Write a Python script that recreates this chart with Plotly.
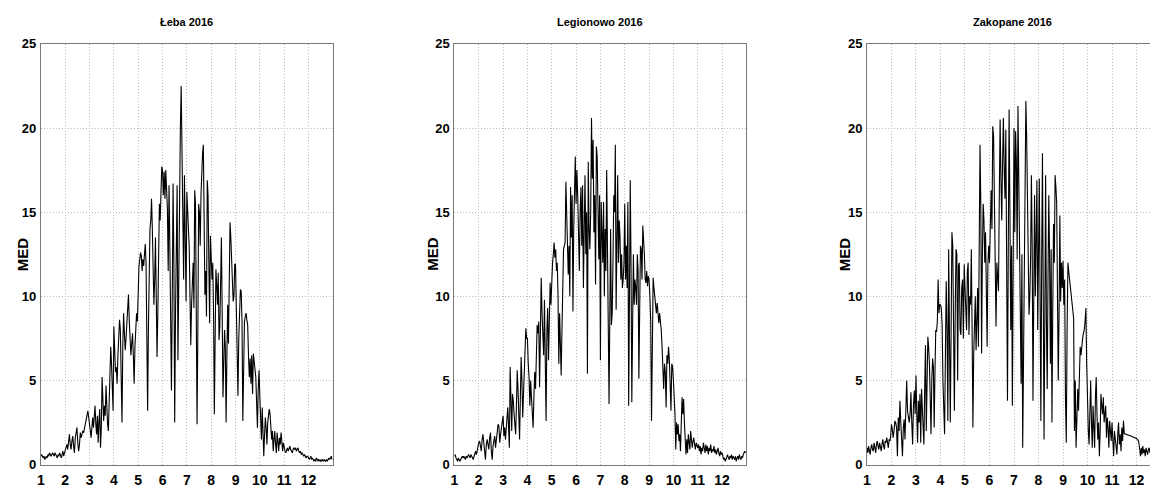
import plotly.graph_objects as go

# Daily MED values, grouped by month (Jan..Dec)
leba = [
    [0.5,0.6,0.5,0.4,0.5,0.3,0.4,0.5,0.4,0.6,0.5,0.7,0.6,0.5,0.6,0.7,0.6,0.5,0.7,0.6,0.5,0.4,0.6,0.5,0.7,0.6,0.4,0.6,0.8,0.5,0.7],
    [0.8,1.0,1.2,0.9,1.5,1.8,1.2,0.9,1.4,1.7,1.1,0.7,1.6,2.0,2.2,1.3,0.8,1.2,1.9,1.6,1.8,2.0,1.9,2.2,2.5,2.7,2.9,3.2,2.8],
    [2.5,2.0,1.6,2.4,2.8,2.2,3.0,3.5,2.4,1.8,2.9,1.3,2.6,3.3,1.0,2.2,5.2,4.3,2.6,3.5,2.9,4.7,3.0,2.4,2.0,3.5,5.5,7.0,6.0,4.0,3.2],
    [8.2,6.0,5.5,5.8,4.8,6.5,7.5,8.6,8.0,6.0,2.5,7.0,9.0,7.8,6.8,7.5,8.3,9.5,10.1,8.5,7.0,6.5,7.2,7.8,6.5,4.8,7.0,8.0,9.0,8.5],
    [10.5,11.8,12.2,12.6,12.4,11.5,12.2,11.8,12.5,13.1,12.0,7.0,3.2,8.0,13.0,14.0,14.5,15.8,14.0,12.0,9.5,11.0,13.5,10.0,6.4,9.0,14.0,15.5,14.5,16.5,17.7],
    [17.5,16.0,17.4,15.8,17.5,16.0,15.2,11.5,16.6,13.0,8.0,4.4,10.0,16.7,12.0,2.5,9.0,15.5,16.6,6.2,12.0,17.0,20.0,22.5,17.8,13.0,11.0,17.2,14.0,9.7],
    [16.2,15.0,14.3,12.9,10.0,7.1,9.5,11.0,12.0,9.3,16.3,15.5,10.0,2.4,8.0,15.5,15.0,13.0,16.0,18.0,18.5,19.0,15.0,10.1,11.5,8.8,16.9,16.0,12.0,8.4,13.6],
    [12.5,11.0,12.0,9.0,3.0,8.0,11.6,10.7,9.5,11.4,7.4,8.2,10.5,13.5,9.0,4.0,6.0,8.0,7.0,2.5,6.5,9.5,7.2,10.0,14.4,13.5,12.0,10.5,9.7,10.0,11.9],
    [11.9,9.5,8.0,4.1,7.5,9.0,10.4,10.3,8.5,2.6,7.8,8.5,8.8,9.0,8.6,8.3,6.5,5.2,6.3,4.8,6.5,4.2,6.6,6.2,5.8,5.2,3.7,2.2,4.5,5.6],
    [4.0,3.0,1.5,3.4,1.0,0.5,1.8,2.8,2.2,1.2,2.5,3.2,3.3,3.0,2.4,1.5,2.0,0.8,1.5,2.0,1.2,0.7,1.9,1.4,0.8,1.6,1.2,1.9,1.0,0.8,1.3],
    [0.9,0.8,0.7,0.9,1.0,0.8,0.9,1.1,0.9,0.8,0.7,0.9,1.0,0.9,1.0,0.8,0.9,1.0,0.8,0.7,0.8,0.6,0.7,0.6,0.5,0.6,0.5,0.4,0.5,0.5],
    [0.4,0.3,0.4,0.5,0.3,0.4,0.3,0.2,0.3,0.2,0.4,0.3,0.2,0.3,0.2,0.2,0.3,0.2,0.3,0.2,0.3,0.2,0.2,0.3,0.2,0.3,0.4,0.3,0.4,0.5,0.3],
]

legionowo = [
    [0.5,0.6,0.4,0.3,0.2,0.4,0.3,0.2,0.3,0.4,0.5,0.4,0.5,0.4,0.3,0.5,0.4,0.5,0.6,0.5,0.4,0.6,0.5,0.4,0.3,0.5,0.6,0.8,0.6,0.9,1.0],
    [1.3,1.4,1.0,0.8,1.5,1.8,1.3,0.6,0.3,1.2,1.5,1.2,0.9,1.6,1.9,0.8,0.3,1.1,1.5,1.7,1.0,1.4,2.0,2.4,2.3,1.3,1.8,2.2,2.8],
    [2.9,1.7,2.2,1.5,2.0,2.5,3.4,2.2,1.0,5.8,3.5,2.0,4.2,3.8,3.0,2.5,1.8,3.5,5.6,4.5,3.0,1.5,4.0,6.4,5.0,2.8,4.2,5.5,6.5,8.1,7.5],
    [7.5,6.0,5.2,3.5,5.0,4.0,3.0,2.2,4.0,5.5,4.5,6.0,8.3,7.8,8.5,4.6,7.0,11.1,9.0,8.0,6.5,9.8,7.0,2.6,8.0,9.3,6.2,8.5,10.8,9.5],
    [11.0,12.0,12.5,13.2,12.3,12.8,11.5,12.0,10.0,6.0,9.0,7.5,5.3,8.0,11.0,12.8,13.0,13.2,16.8,15.0,12.0,11.3,13.0,10.0,16.5,13.5,16.0,9.1,14.0,17.0,18.3],
    [15.5,17.5,16.0,14.0,11.5,15.0,16.5,13.0,16.6,10.5,14.0,17.2,12.5,15.0,5.4,18.0,14.0,12.8,15.0,20.6,17.0,19.3,13.8,16.0,10.7,18.9,18.3,15.5,12.2,16.0],
    [6.2,15.6,13.0,12.0,15.6,10.0,14.0,11.5,17.5,12.0,7.6,3.6,9.0,14.0,8.3,9.0,12.0,16.0,15.0,19.0,9.2,14.0,17.2,12.0,14.5,13.5,11.0,12.5,10.5,11.0,12.0],
    [15.5,11.0,13.0,10.5,15.6,3.5,10.0,16.9,12.0,3.7,8.2,12.5,9.5,11.0,10.5,9.5,12.5,11.5,5.1,9.0,13.0,12.8,11.0,14.2,13.5,12.5,11.0,10.8,11.5,10.6,11.2],
    [11.0,10.0,8.5,2.6,7.0,11.1,10.5,10.0,9.8,9.0,9.6,9.1,8.4,9.0,8.5,8.0,7.0,5.0,4.5,6.0,5.5,3.4,6.5,6.0,7.0,6.2,5.0,3.2,6.0,5.8],
    [5.0,4.0,3.0,0.9,2.5,1.8,2.4,1.4,1.8,0.8,2.2,4.0,3.0,3.9,2.5,1.0,0.6,1.5,0.7,1.8,1.2,0.9,2.0,1.5,1.0,1.4,1.6,1.2,0.9,1.3,1.1],
    [1.0,1.2,0.8,1.1,0.6,1.0,0.8,1.3,0.9,0.7,1.2,0.8,1.1,0.6,1.0,0.8,1.2,0.7,0.9,0.8,1.1,0.7,0.9,0.6,0.8,1.0,0.7,0.5,0.8,0.6],
    [0.7,0.5,0.3,0.4,0.2,0.3,0.5,0.6,0.4,0.3,0.5,0.4,0.6,0.3,0.5,0.4,0.3,0.5,0.2,0.4,0.5,0.3,0.6,0.4,0.3,0.5,0.4,0.6,0.7,0.8,0.7],
]

zakopane = [
    [1.0,0.7,1.1,0.8,0.6,1.0,1.2,0.9,0.8,1.3,1.0,0.7,1.2,1.4,1.1,0.9,1.3,1.0,0.8,1.2,1.5,1.1,0.9,1.4,1.3,1.6,1.2,1.0,1.5,1.4,1.7],
    [2.4,2.1,1.6,2.0,2.6,2.5,2.2,0.5,2.8,2.0,3.8,2.5,1.0,0.5,2.2,2.7,1.5,3.5,5.0,3.2,2.8,2.5,3.0,4.3,2.5,1.2,3.5,4.4,3.0],
    [5.3,3.0,1.3,3.8,2.5,4.2,1.3,4.5,3.0,2.0,1.2,4.5,7.1,2.0,5.0,7.6,7.0,6.0,4.0,1.8,5.0,6.3,5.8,2.2,5.5,8.0,7.9,8.5,11.0,9.0,9.5],
    [9.5,9.3,8.3,5.0,2.5,1.8,6.5,10.9,8.0,2.6,12.8,9.0,2.5,8.0,13.8,13.0,6.0,3.2,9.0,12.8,12.5,5.0,11.8,12.0,8.0,7.7,10.5,11.0,7.5,11.9],
    [10.5,9.0,8.0,11.5,12.0,7.7,10.0,9.5,12.8,8.0,2.2,6.5,8.5,10.0,6.8,9.5,10.5,7.0,12.0,19.0,15.5,6.6,12.5,15.5,14.5,12.0,13.8,10.3,7.0,12.0,13.0],
    [12.0,15.7,16.3,14.0,20.1,19.5,16.0,10.5,8.2,12.0,11.0,10.3,16.0,20.5,17.0,14.5,18.0,20.6,17.5,15.8,19.9,10.0,3.8,13.0,21.1,15.0,8.0,13.0,3.5,12.0],
    [20.0,13.8,19.8,18.0,12.2,21.3,17.0,14.0,9.0,4.8,12.5,1.0,6.0,12.0,17.0,21.6,19.5,14.5,10.0,8.9,10.0,12.3,17.2,13.0,3.8,14.0,16.0,10.0,14.0,16.9,8.0],
    [13.8,17.0,10.0,2.6,12.0,18.5,10.0,1.5,9.0,17.2,8.5,4.5,11.0,16.0,12.4,6.0,12.8,2.5,9.0,14.3,12.0,17.2,16.5,15.5,10.0,5.0,9.0,14.8,9.7,12.0,10.5],
    [12.1,9.5,11.0,4.0,1.3,8.0,12.0,11.5,11.0,10.5,10.0,9.5,9.0,8.7,2.0,5.0,1.0,3.5,4.5,3.2,6.5,7.0,6.5,7.2,7.5,7.8,8.0,8.5,9.3,6.0],
    [3.0,2.0,1.2,3.0,5.0,2.5,1.0,3.5,2.2,1.0,4.0,5.2,3.0,1.5,2.5,0.5,2.0,4.2,3.5,3.0,4.0,2.5,3.0,3.5,1.6,2.8,2.2,1.0,2.6,1.8,1.4],
    [2.5,1.5,0.5,2.0,1.5,1.0,0.6,1.8,2.5,1.2,1.8,0.8,2.2,1.4,2.6,1.85,1.82,1.8,1.78,1.77,1.75,1.74,1.72,1.7,1.68,1.67,1.65,1.63,1.6,1.58],
    [1.55,1.5,1.45,1.3,0.9,0.5,1.0,0.6,1.1,0.7,0.9,0.5,1.0,0.8,0.6,0.9,1.0,0.7,0.8,0.6,0.9,0.7,1.0,0.8,0.6,0.9,0.7,0.8,1.0,0.7,0.9],
]

titles = ["Łeba 2016", "Legionowo 2016", "Zakopane 2016"]
y_ticks = [0, 5, 10, 15, 20, 25]
x_ticks = list(range(1, 13))


def flatten(months):
    xs, ys = [], []
    for m, vals in enumerate(months, start=1):
        n = len(vals)
        for i, v in enumerate(vals):
            xs.append(m + i / n)
            ys.append(v)
    return xs, ys


W, H = 1150, 493
panels = [  # (left px, right px, x range end)
    (37, 330, 13.0),
    (452, 745, 13.0),
    (866, 1150, 12.55),
]
plot_top, plot_bot = 38, 472
ydom = [1 - plot_bot / H, 1 - plot_top / H]

NARROW = "Liberation Sans Narrow, Arial Narrow, Liberation Sans, Arial, sans-serif"
fig = go.Figure()
tick_font = dict(family=NARROW, size=13, color="black")
grid = dict(showgrid=True, gridcolor="#bdbdbd", griddash="1px,2px", gridwidth=1)
annotations = []
for k, (series, title, (lpx, rpx, xend)) in enumerate(zip([leba, legionowo, zakopane], titles, panels)):
    xs, ys = flatten(series)
    xa = "x" if k == 0 else f"x{k+1}"
    ya = "y" if k == 0 else f"y{k+1}"
    fig.add_trace(go.Scatter(x=xs, y=ys, mode="lines",
                             line=dict(color="black", width=1.1),
                             xaxis=xa, yaxis=ya, showlegend=False, hoverinfo="skip"))
    axx = "xaxis" if k == 0 else f"xaxis{k+1}"
    axy = "yaxis" if k == 0 else f"yaxis{k+1}"
    fig.layout[axx] = dict(domain=[lpx / W, min(rpx / W, 1.0)], anchor=ya,
                           range=[1, xend], tickvals=x_ticks, ticktext=[f"<b>{t}</b>" for t in x_ticks],
                           showline=True, linecolor="#7a7a7a", linewidth=1, mirror=True,
                           zeroline=False, ticks="", tickfont=dict(tick_font, size=14),
                           ticklabelstandoff=3, **grid)
    fig.layout[axy] = dict(domain=ydom, anchor=xa, range=[0, 25], tickvals=y_ticks,
                           ticktext=[f"<b>{t}</b>" for t in y_ticks],
                           showline=True, linecolor="#7a7a7a", linewidth=1,
                           mirror=(k < 2), zeroline=False, ticks="", tickfont=tick_font,
                           ticklabelstandoff=1, **grid)
    center = (lpx + lpx + 293) / 2
    annotations.append(dict(text=f"<b>{title}</b>", x=center / W, y=1 - 15 / H,
                            xref="paper", yref="paper", showarrow=False,
                            xanchor="center", yanchor="middle",
                            font=dict(family=NARROW, size=11, color="black")))
    med_x = [18, 430, 843][k]
    annotations.append(dict(text="<b>MED</b>", x=med_x / W, y=1 - 255 / H,
                            xref="paper", yref="paper", showarrow=False, textangle=-90,
                            xanchor="center", yanchor="middle",
                            font=dict(family="Liberation Sans, Arial, sans-serif", size=15, color="black")))

fig.update_layout(width=W, height=H, margin=dict(l=0, r=0, t=0, b=0),
                  paper_bgcolor="white", plot_bgcolor="white",
                  annotations=annotations)

fig.write_html("out.html", config={"displayModeBar": False},
               post_script="document.body.style.margin='0';document.body.style.overflow='hidden';")
